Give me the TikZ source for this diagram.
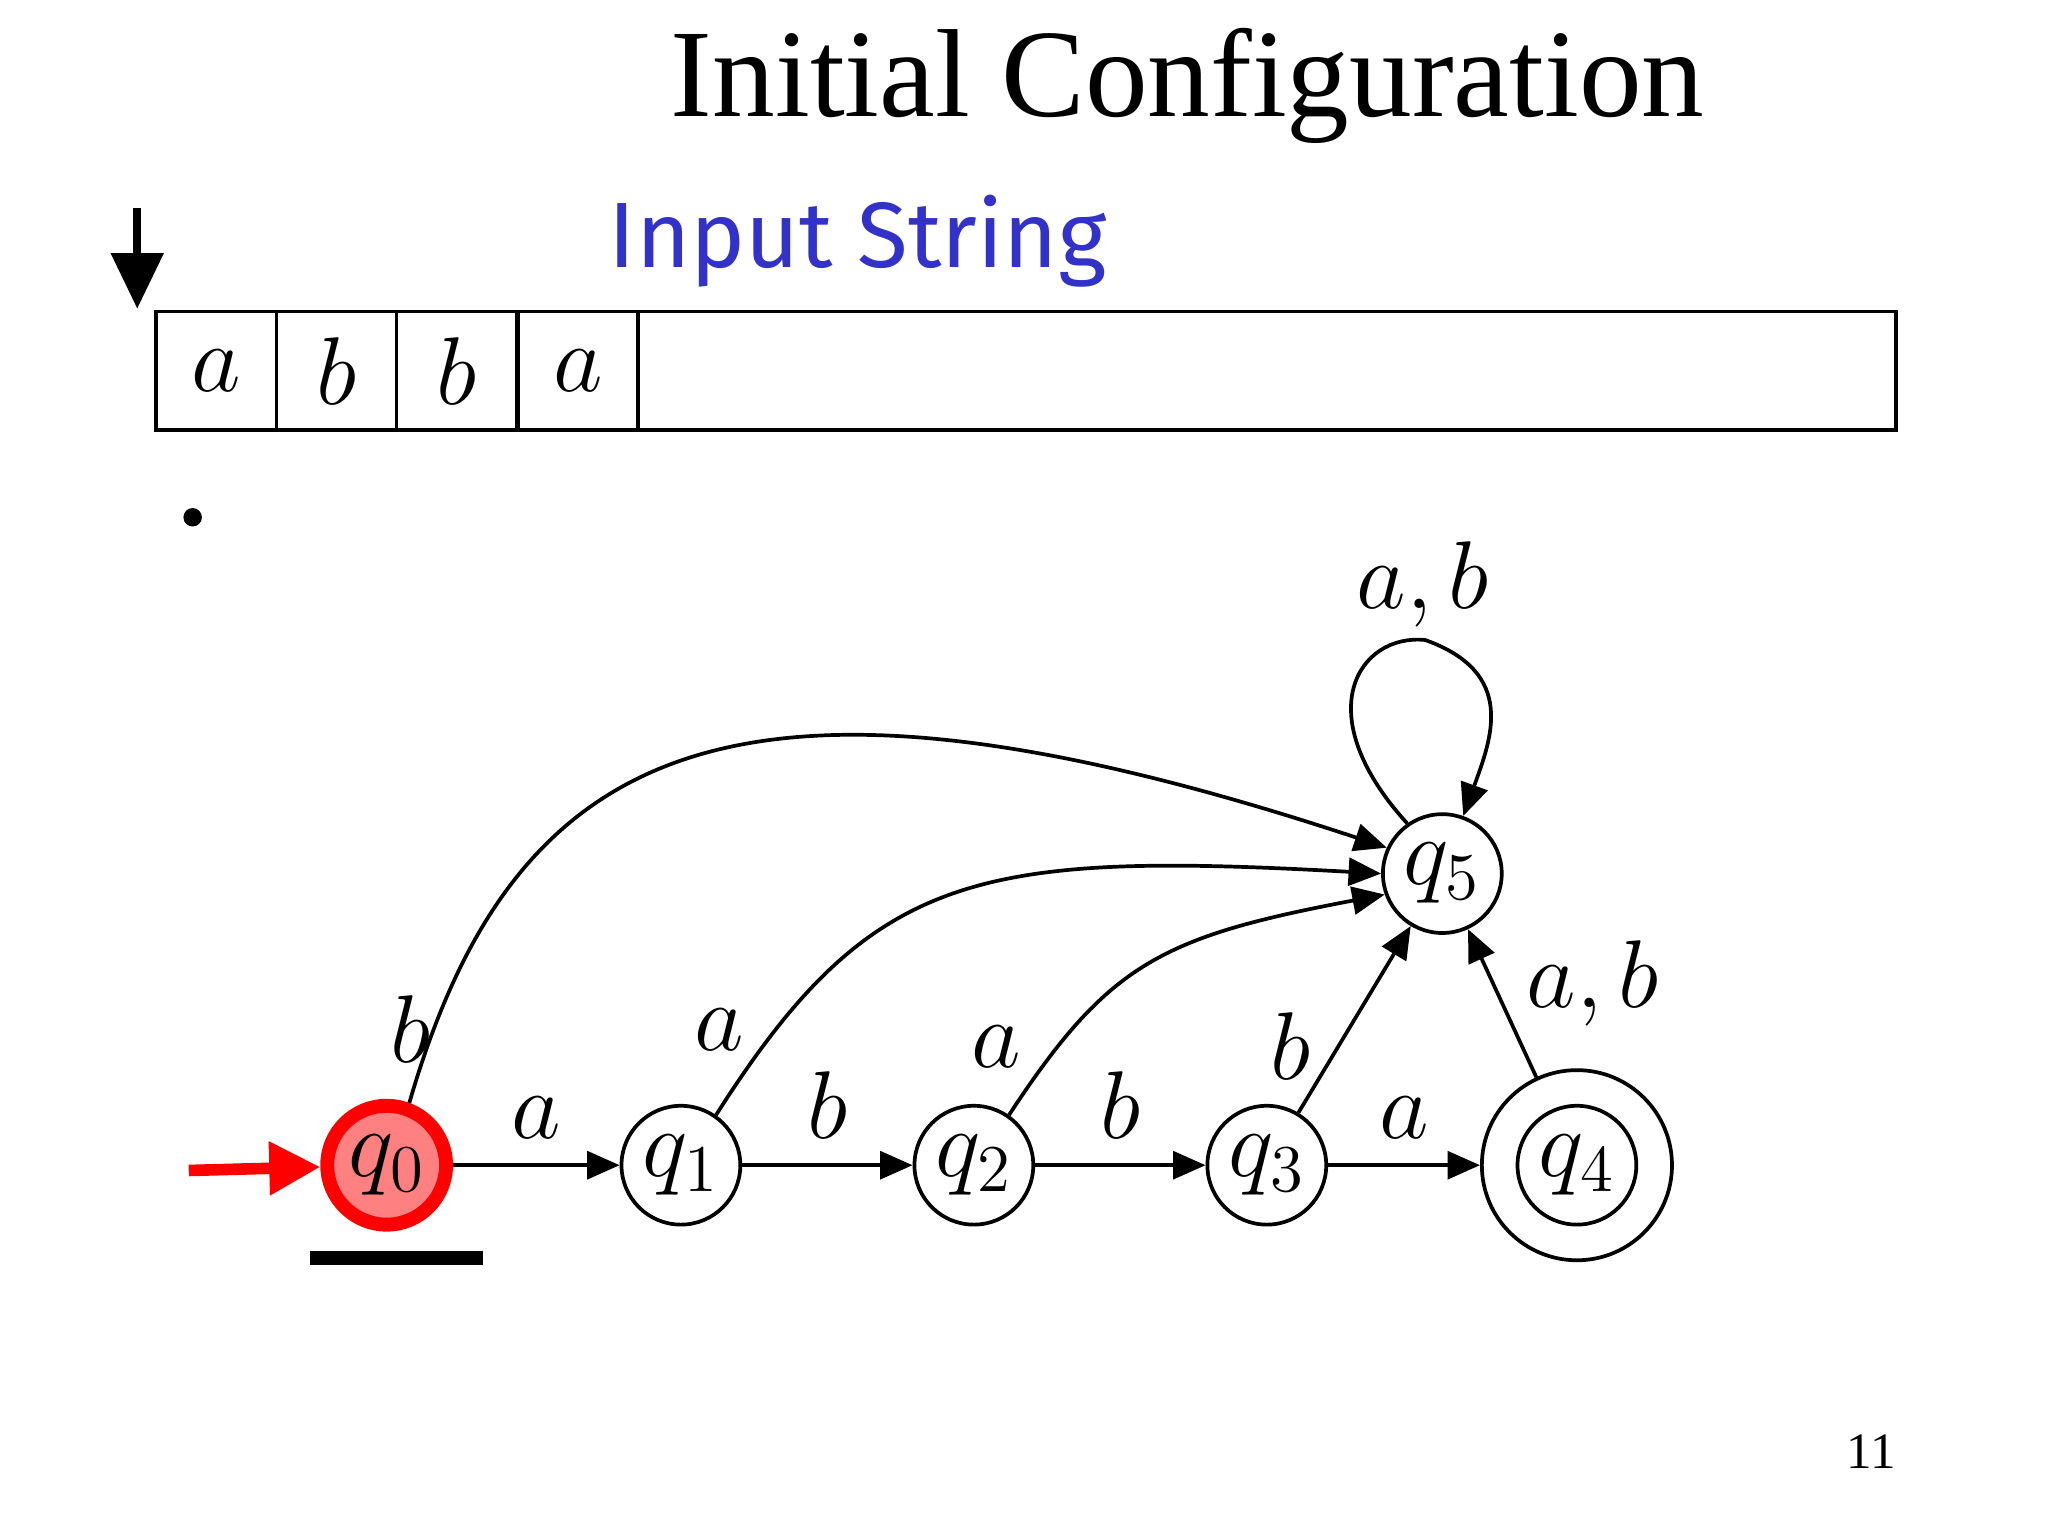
\documentclass[tikz,border=0pt]{standalone}
\usepackage{fontspec}
\setmainfont{Liberation Serif}
\newfontfamily\inputfont{Fira Sans}
\usetikzlibrary{arrows.meta}
\definecolor{statered}{RGB}{255,128,128}
\definecolor{inputblue}{RGB}{50,50,200}
\tikzset{
  state/.style={circle, draw, thick, minimum size=0.9cm, inner sep=0pt, font=\fontsize{22}{24}\selectfont},
  trans/.style={-{Triangle[length=7pt,width=6pt]}, thick},
  lbl/.style={font=\fontsize{20}{22}\selectfont},
  cell/.style={draw, thick, minimum width=0.91cm, minimum height=0.9cm, anchor=center, inner sep=0pt, font=\fontsize{20}{22}\selectfont}
}
\begin{document}
\begin{tikzpicture}[x=0.01cm, y=-0.01cm]
  \useasboundingbox (0,0) rectangle (1552,1164);
  \node (title) at (900,65) {\fontsize{27}{30}\selectfont Initial Configuration};
  \node[text=inputblue] (input) at (650,183) {\inputfont\fontsize{20}{24}\selectfont Input String};
  % tape
  \draw[thick] (118,236) rectangle (1437,326);
  \foreach \x/\s in {164/a,255/b,346/b,438/a} {
    \node[cell] (c\x) at (\x,281) {$\s$};
  }
  \coordinate (headtop) at (104,158);
  \coordinate (headbot) at (104,234);
  \draw[-{Triangle[length=12pt,width=11pt]}, line width=1.8pt] (headtop) -- (headbot);
  \fill (146,392) circle (7);
  % states
  \node[state, fill=statered, draw=red, line width=3pt] (q0) at (293,883) {$q_0$};
  \node[state] (q1) at (516,883) {$q_1$};
  \node[state] (q2) at (738,883) {$q_2$};
  \node[state] (q3) at (960,883) {$q_3$};
  \node[state] (q4) at (1195,883) {$q_4$};
  \node[state, minimum size=1.44cm] (q4o) at (q4) {};
  \node[state] (q5) at (1093,662) {$q_5$};
  \coordinate (start) at (143,887);
  \draw[-{Triangle[length=11pt,width=11pt]}, red, line width=2.5pt] (start) -- (q0);
  \coordinate (ul1) at (235,953);
  \coordinate (ul2) at (366,953);
  \draw[line width=3pt] (ul1) -- (ul2);
  % transitions
  \draw[trans] (q0) -- node[lbl, above=2pt] {$a$} (q1);
  \draw[trans] (q1) -- node[lbl, above=2pt] {$b$} (q2);
  \draw[trans] (q2) -- node[lbl, above=2pt] {$b$} (q3);
  \draw[trans] (q3) -- node[lbl, above=2pt] {$a$} (q4o);
  \draw[trans] (q0.70) .. controls (390,560) and (560,480) .. (q5.155);
  \node[lbl] (lb0) at (311,780) {$b$};
  \draw[trans] (q1.55) .. controls (660,660) and (740,645) .. (q5.180);
  \node[lbl] (lb1) at (545,780) {$a$};
  \draw[trans] (q2.55) .. controls (840,730) and (880,710) .. (q5.200);
  \node[lbl] (lb2) at (755,793) {$a$};
  \draw[trans] (q3) -- (q5);
  \node[lbl] (lb3) at (978,793) {$b$};
  \draw[trans] (q4o) -- (q5);
  \node[lbl] (lb4) at (1207,745) {$a,b$};
  \draw[trans] (q5.125) .. controls (990,540) and (1030,480) .. (1080,485) .. controls (1150,510) and (1130,560) .. (q5.70);
  \node[lbl] (lb5) at (1078,443) {$a,b$};
  \node (page) at (1418,1100) {\fontsize{11}{13}\selectfont 11};
\end{tikzpicture}
\end{document}
